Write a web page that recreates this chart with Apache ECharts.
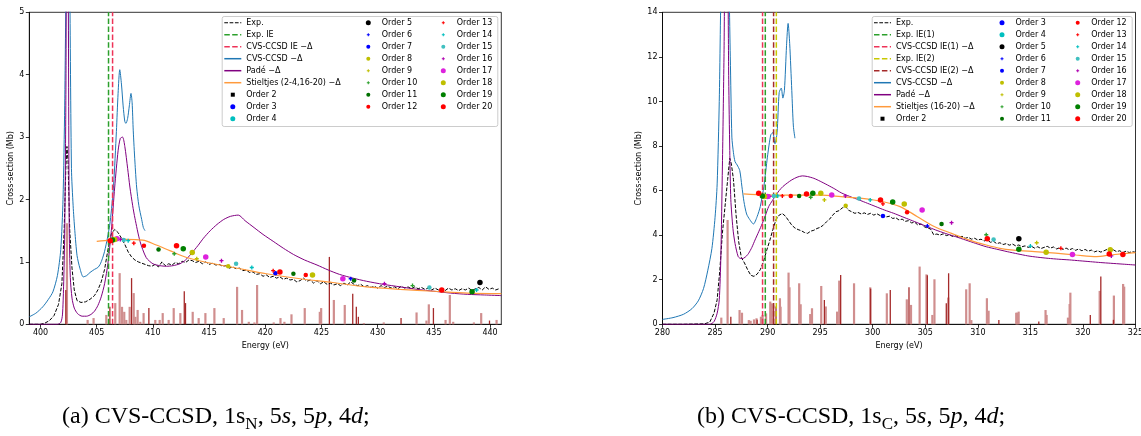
<!DOCTYPE html>
<html><head><meta charset="utf-8">
<script src="https://cdn.jsdelivr.net/npm/echarts@6/dist/echarts.min.js"></script>
<style>html,body{margin:0;padding:0;background:#fff}#c{width:1141px;height:436px}</style>
</head><body><div id="c"></div>
<script>
// ---------------- DATA ----------------
const xTicksLeft = [400,405,410,415,420,425,430,435,440];
const xTicksRight = [280,285,290,295,300,305,310,315,320,325];

const expLeft = [[399.0,0.0],[399.5,0.0],[400.0,0.0],[400.4,0.02],[400.8,0.06],[401.2,0.14],[401.6,0.32],[401.9,0.65],[402.1,1.5],[402.25,2.5],[402.35,2.85],[402.45,2.6],[402.6,1.5],[402.8,0.9],[403.0,0.55],[403.25,0.38],[403.6,0.35],[404.0,0.36],[404.4,0.4],[404.8,0.46],[405.1,0.55],[405.4,0.68],[405.7,0.88],[406.0,1.2],[406.3,1.45],[406.6,1.52],[406.9,1.47],[407.2,1.38],[407.5,1.28],[407.8,1.16],[408.1,1.08],[408.4,1.03],[408.7,1.0],[409.0,0.98],[409.3,0.96],[409.6,0.94],[409.9,0.93],[410.2,0.96],[410.5,0.92],[410.8,1.0],[411.1,0.94],[411.4,0.97],[411.7,0.95],[412.0,0.99],[412.3,0.97],[412.6,1.01],[412.9,0.99],[413.2,1.03],[413.5,1.02],[413.8,0.99],[414.1,1.01],[414.4,0.97],[414.7,1.0],[415.0,0.96],[415.3,0.98],[415.6,0.95],[415.9,0.96],[416.2,0.93],[416.5,0.94],[416.8,0.9],[417.1,0.92],[417.4,0.89],[417.7,0.9],[418.0,0.86],[418.3,0.87],[418.6,0.83],[418.9,0.84],[419.2,0.8],[419.5,0.81],[419.8,0.77],[420.1,0.79],[420.4,0.75],[420.7,0.77],[421.0,0.74],[421.3,0.76],[421.6,0.72],[421.9,0.74],[422.2,0.71],[422.5,0.72],[422.8,0.68],[423.1,0.7],[423.4,0.74],[423.7,0.69],[424.0,0.71],[424.3,0.66],[424.6,0.7],[424.9,0.65],[425.2,0.68],[425.5,0.64],[425.8,0.66],[426.1,0.63],[426.4,0.65],[426.7,0.62],[427.0,0.66],[427.3,0.63],[427.6,0.68],[427.9,0.64],[428.2,0.62],[428.5,0.64],[428.8,0.6],[429.1,0.62],[429.4,0.59],[429.7,0.61],[430.0,0.58],[430.3,0.62],[430.6,0.59],[430.9,0.61],[431.2,0.58],[431.5,0.6],[431.8,0.57],[432.1,0.61],[432.4,0.58],[432.7,0.6],[433.0,0.57],[433.3,0.6],[433.6,0.57],[433.9,0.59],[434.2,0.56],[434.5,0.58],[434.8,0.55],[435.1,0.58],[435.4,0.55],[435.7,0.57],[436.0,0.54],[436.3,0.58],[436.6,0.55],[436.9,0.57],[437.2,0.54],[437.5,0.57],[437.8,0.55],[438.1,0.58],[438.4,0.54],[438.7,0.57],[439.0,0.59],[439.3,0.55],[439.6,0.6],[439.9,0.56],[440.2,0.58],[440.5,0.55],[440.8,0.57]];

const cvsLeft = [[399,0.12],[399.6,0.18],[400.2,0.28],[400.7,0.4],[401.1,0.52],[401.5,0.78],[401.8,1.2],[402.0,2.0],[402.15,3.5],[402.3,6],[402.45,8],[402.6,5.5],[402.75,2.5],[402.9,1.9],[403.05,1.5],[403.25,1.1],[403.5,0.9],[403.8,0.76],[404.1,0.78],[404.4,0.83],[404.8,0.88],[405.1,0.91],[405.3,0.96],[405.5,1.05],[405.7,1.17],[405.95,1.38],[406.2,1.65],[406.5,2.23],[406.75,3.09],[406.9,3.7],[407.05,4.08],[407.2,3.85],[407.35,3.5],[407.5,3.25],[407.6,3.22],[407.75,3.3],[407.9,3.5],[408.05,3.7],[408.15,3.55],[408.25,3.1],[408.4,2.6],[408.55,2.2],[408.75,1.9],[409.0,1.68],[409.15,1.55],[409.3,1.5]];

const padeLeft = [[399,0],[401.5,0],[401.8,0.03],[401.95,0.15],[402.05,0.6],[402.15,1.45],[402.25,3.5],[402.35,7],[402.45,6],[402.55,1.6],[402.65,0.75],[402.8,0.42],[403.0,0.26],[403.3,0.17],[403.7,0.13],[404.1,0.13],[404.5,0.16],[404.8,0.21],[405.1,0.3],[405.4,0.44],[405.7,0.65],[406.0,0.98],[406.3,1.5],[406.6,2.2],[406.9,2.78],[407.1,2.98],[407.3,3.0],[407.5,2.85],[407.75,2.5],[407.95,2.2],[408.2,1.9],[408.4,1.7],[408.85,1.33],[409.4,1.07],[410.0,0.97],[410.6,0.94],[411.2,0.93],[411.8,0.94],[412.4,0.97],[412.9,1.03],[413.4,1.13],[414.0,1.26],[414.5,1.38],[415.1,1.5],[415.7,1.6],[416.3,1.68],[416.9,1.73],[417.6,1.75],[418.2,1.66],[419.0,1.55],[419.8,1.44],[420.7,1.33],[421.6,1.22],[422.5,1.12],[423.5,1.03],[424.6,0.95],[425.6,0.87],[426.6,0.8],[427.8,0.74],[429.0,0.69],[430.5,0.64],[432,0.6],[433.5,0.56],[435,0.53],[436.5,0.5],[438,0.48],[439.5,0.47],[441,0.46]];

const stieltjesLeft = [[405,1.33],[406.2,1.35],[407.5,1.36],[409.1,1.35],[410.3,1.27],[411.5,1.18],[413,1.07],[414.8,0.99],[417.2,0.91],[420.1,0.81],[423.1,0.73],[426,0.67],[429,0.6],[432,0.56],[435,0.53],[438,0.5],[441,0.49]];

const expRight = [[280,0],[282,0],[284,0.02],[284.5,0.1],[284.9,0.5],[285.2,1.1],[285.45,2.4],[285.7,4.1],[285.95,5.3],[286.2,6.5],[286.4,7.45],[286.55,7.2],[286.75,6.5],[287.0,4.9],[287.25,3.7],[287.5,3.0],[287.8,2.75],[288.1,2.45],[288.4,2.2],[288.7,2.15],[289.0,2.25],[289.3,2.45],[289.6,2.8],[289.9,3.3],[290.2,3.75],[290.5,4.25],[290.8,4.7],[291.1,4.9],[291.4,4.97],[291.7,4.85],[292.0,4.65],[292.3,4.45],[292.6,4.32],[292.9,4.25],[293.2,4.2],[293.5,4.12],[293.8,4.08],[294.1,4.18],[294.4,4.22],[294.7,4.3],[295.0,4.35],[295.3,4.45],[295.6,4.6],[295.9,4.72],[296.2,4.9],[296.5,5.05],[296.8,5.1],[297.1,5.22],[297.4,5.3],[297.7,5.12],[298.0,5.05],[298.3,4.98],[298.6,5.02],[298.9,4.95],[299.2,5.0],[299.5,4.93],[299.8,4.98],[300.1,4.9],[300.4,4.96],[300.7,4.88],[301.0,4.92],[301.3,4.82],[301.6,4.85],[301.9,4.75],[302.2,4.78],[302.5,4.68],[302.8,4.72],[303.1,4.62],[303.4,4.65],[303.7,4.55],[304.0,4.58],[304.3,4.45],[304.6,4.5],[304.9,4.38],[305.2,4.32],[305.5,4.28],[305.8,4.02],[306.1,4.05],[306.4,4.0],[306.7,4.06],[307.0,3.98],[307.3,4.02],[307.6,3.94],[307.9,3.98],[308.2,3.9],[308.5,3.95],[308.8,3.86],[309.1,3.9],[309.4,3.82],[309.7,3.86],[310.0,3.78],[310.3,3.82],[310.6,3.74],[310.9,3.78],[311.2,3.68],[311.5,3.72],[311.8,3.62],[312.1,3.66],[312.4,3.58],[312.7,3.62],[313.0,3.55],[313.3,3.6],[313.6,3.52],[313.9,3.56],[314.2,3.48],[314.5,3.52],[314.8,3.45],[315.1,3.5],[315.4,3.42],[315.7,3.48],[316.0,3.4],[316.3,3.45],[316.6,3.5],[316.9,3.42],[317.2,3.47],[317.5,3.38],[317.8,3.44],[318.1,3.36],[318.4,3.42],[318.7,3.34],[319.0,3.4],[319.3,3.32],[319.6,3.38],[319.9,3.3],[320.2,3.36],[320.5,3.28],[320.8,3.33],[321.1,3.25],[321.4,3.3],[321.7,3.24],[322.0,3.3],[322.3,3.36],[322.6,3.28],[322.9,3.34],[323.2,3.26],[323.5,3.3],[323.8,3.22],[324.1,3.28],[324.4,3.22],[324.7,3.26],[325,3.23]];

const cvsRight = [[280,0.22],[281,0.3],[282,0.45],[282.8,0.7],[283.4,1.05],[283.9,1.6],[284.3,2.4],[284.7,3.4],[285.0,4.8],[285.2,6.3],[285.4,10],[285.6,16],[285.9,20],[286.2,18],[286.45,12],[286.6,8.4],[286.75,7.7],[286.9,7.3],[287.1,7.15],[287.35,6.9],[287.55,6.2],[287.75,5.5],[288.0,4.95],[288.3,4.7],[288.65,4.5],[289.0,4.83],[289.3,5.28],[289.65,6.2],[289.98,7.5],[290.3,8.5],[290.5,8.6],[290.7,8.1],[290.9,8.6],[291.1,10.4],[291.3,10.6],[291.45,10.15],[291.6,10.5],[291.8,12.5],[291.95,13.5],[292.1,12.6],[292.3,10.5],[292.45,8.9],[292.6,8.35]];

const padeRight = [[280,0],[284.5,0],[284.9,0.12],[285.2,0.5],[285.4,1.1],[285.55,3],[285.7,7.1],[285.85,12],[286.0,18],[286.15,18],[286.3,11],[286.4,7.8],[286.5,5.6],[286.7,4.3],[286.9,3.63],[287.2,3.04],[287.45,2.95],[287.7,2.96],[288.0,3.07],[288.2,3.19],[288.5,3.45],[288.8,3.78],[289.15,4.15],[289.5,4.53],[289.8,4.9],[290.1,5.28],[290.45,5.55],[290.8,5.8],[291.1,6.0],[291.45,6.18],[291.9,6.35],[292.3,6.48],[292.8,6.6],[293.3,6.66],[293.8,6.63],[294.4,6.55],[295.0,6.42],[295.7,6.25],[296.4,6.07],[297.0,5.9],[297.8,5.74],[298.7,5.58],[299.5,5.43],[300.3,5.28],[301.1,5.13],[302,4.98],[302.8,4.83],[303.6,4.68],[304.4,4.53],[305.2,4.38],[306,4.23],[306.9,4.08],[307.9,3.93],[308.85,3.78],[309.8,3.63],[310.8,3.48],[311.8,3.37],[312.8,3.26],[313.8,3.16],[314.75,3.07],[315.7,3.01],[316.7,2.96],[317.7,2.92],[318.7,2.89],[319.7,2.85],[320.7,2.81],[321.7,2.77],[322.6,2.74],[323.8,2.7],[325,2.66]];

const stieltjesRight = [[287.7,5.85],[289.8,5.8],[292.4,5.8],[295.1,5.8],[297,5.73],[299,5.65],[301,5.5],[302.6,5.28],[304.25,4.83],[305.9,4.38],[307.5,4.08],[309.2,3.78],[310.8,3.56],[312.1,3.41],[313.4,3.33],[315.4,3.26],[317.4,3.19],[319.35,3.11],[321.3,3.04],[322.6,3.11],[325,3.22]];

// ionisation energies (vertical dashed lines)
const ieLeftExp = 406.05, ieLeftCvs = 406.41;
const ieRightExp1 = 289.78, ieRightCvs1 = 289.52, ieRightExp2 = 290.83, ieRightCvs2 = 290.57;

// stick spectra [energy, height]
const barsLeftLight = [[402.31,1.62],[404.15,0.07],[404.68,0.1],[405.81,0.15],[406.61,0.34],[407.0,0.82],[407.21,0.28],[407.41,0.2],[407.59,0.07],[407.89,0.28],[408.25,0.5],[408.4,0.12],[408.6,0.23],[408.84,0.04],[409.13,0.18],[410.17,0.07],[410.56,0.07],[410.83,0.18],[411.36,0.07],[411.81,0.26],[412.4,0.18],[413.5,0.2],[414.03,0.1],[414.63,0.18],[415.43,0.26],[416.26,0.1],[417.45,0.6],[417.89,0.23],[418.49,0.04],[418.99,0.03],[419.23,0.63],[420.71,0.03],[421.31,0.1],[421.66,0.04],[422.29,0.16],[423.47,0.26],[424.81,0.2],[424.93,0.26],[426.06,0.39],[427.03,0.31],[428.73,0.02],[430.5,0.03],[433.42,0.19],[434.3,0.06],[434.51,0.32],[436.0,0.07],[436.38,0.47],[436.68,0.04],[438.52,0.03],[439.17,0.18],[440.54,0.07]];
const barsLeftDark = [[402.25,0.55],[406.17,0.28],[408.1,0.74],[409.64,0.26],[412.79,0.53],[412.9,0.34],[425.7,1.08],[427.78,0.49],[428.1,0.28],[428.28,0.12],[432.08,0.1],[434.96,0.26],[439.95,0.06]];
const barsRightLight = [[285.55,0.3],[286.15,4.68],[287.29,0.64],[287.52,0.52],[288.17,0.19],[288.34,0.16],[288.66,0.22],[288.9,0.27],[289.32,0.34],[289.48,0.42],[289.81,0.49],[290.21,1.02],[290.37,0.94],[291.13,1.17],[291.19,0.79],[291.95,2.32],[292.04,1.66],[292.96,1.84],[293.1,0.9],[294.01,0.46],[294.18,0.72],[295.06,1.72],[295.49,0.8],[296.57,0.57],[296.77,1.96],[298.18,1.84],[299.72,1.66],[301.3,1.39],[303.2,1.12],[303.6,0.87],[304.42,2.59],[305.07,2.24],[305.63,0.42],[305.83,2.02],[307.14,1.2],[308.85,1.57],[309.18,1.84],[309.34,0.19],[310.82,1.17],[310.98,0.61],[313.61,0.52],[313.7,0.52],[313.84,0.57],[316.4,0.64],[316.5,0.42],[318.53,0.3],[318.69,0.91],[318.76,1.42],[321.55,1.5],[322.9,1.29],[323.78,1.81],[323.88,1.69]];
const barsRightDark = [[286.5,0.34],[289.0,0.2],[290.57,0.85],[290.8,0.8],[295.4,1.09],[296.95,2.21],[299.8,1.6],[301.67,1.54],[303.45,1.66],[305.2,2.2],[307.0,0.94],[307.22,2.29],[312.0,0.19],[315.8,0.13],[320.7,0.42],[321.7,2.14],[322.9,0.2]];

// Stieltjes points, index 0 = order 2 ... index 18 = order 20
const ordersLeft = [
  [], [], [],
  [[439.1,0.67]],
  [[427.6,0.73]],
  [[420.9,0.82]],
  [[416.7,0.93]],
  [[413.9,1.05]],
  [[411.9,1.13],[433.1,0.62]],
  [[410.5,1.2],[422.5,0.81],[427.9,0.70]],
  [[409.2,1.26],[423.6,0.79]],
  [[408.3,1.30],[420.7,0.86]],
  [[407.8,1.34],[418.8,0.91],[438.8,0.55]],
  [[407.4,1.35],[417.4,0.97],[434.6,0.59]],
  [[407.1,1.36],[416.1,1.02],[430.6,0.65]],
  [[406.8,1.37],[414.7,1.08],[426.9,0.73]],
  [[406.6,1.36],[413.5,1.15],[424.2,0.79]],
  [[406.4,1.35],[412.7,1.21],[438.4,0.52]],
  [[406.2,1.34],[412.1,1.26],[421.3,0.84],[435.7,0.55]]
];
const ordersRight = [
  [], [], [],
  [[313.9,3.84]],
  [[305.2,4.41]],
  [[300.97,4.86]],
  [[297.43,5.32]],
  [[295.4,5.58],[315.6,3.66]],
  [[294.1,5.70],[310.8,4.02]],
  [[293.0,5.76],[306.55,4.50]],
  [[292.2,5.76],[303.27,5.03]],
  [[291.4,5.76],[300.97,5.40],[317.9,3.41]],
  [[290.96,5.76],[299.76,5.58],[315.0,3.51]],
  [[290.6,5.76],[298.7,5.65],[311.5,3.81]],
  [[290.2,5.74],[297.4,5.76],[307.5,4.56],[322.7,3.07]],
  [[290.0,5.73],[296.1,5.80],[304.7,5.13],[319.0,3.13]],
  [[289.7,5.73],[295.06,5.88],[303.0,5.40],[316.5,3.23],[322.6,3.34]],
  [[289.5,5.76],[294.3,5.88],[301.9,5.49],[313.9,3.37]],
  [[289.15,5.88],[293.7,5.85],[300.74,5.58],[310.9,3.84],[322.5,3.16],[323.8,3.13]]
];
const orderNumbers = [2,3,4,5,6,7,8,9,10,11,12,13,14,15,16,17,18,19,20];
const orderColors = ['#000000','#0000ff','#00bfbf','#000000','#0000ff','#0000ff','#bfbf00','#bfbf00','#2ca02c','#007000','#ff0000','#ff0000','#00bfbf','#40c0c0','#b000b0','#dd22dd','#bfbf00','#008000','#ff0000'];
const orderMarkers = ['square','big','big','big','plus','mid','mid','plus','plus','mid','mid','plus','plus','mid','plus','big','big','big','big'];

// ---------------- STYLE ----------------
const FONT = 'DejaVu Sans';
const M = '\u2212\u0394';
const C = {black:'#000000', green:'#2ca02c', red:'#ee3358', blue:'#1f77b4', purple:'#800080', orange:'#ff9a3c', yellow:'#c8c800', brown:'#a52a2a'};
const DASH1 = [3.7,1.6], DASH15 = [5.5,2.4];
const BOX = 'M0,0M17,12';
const ICON = {
  solid: 'path://' + BOX + 'M0,5.25h17v1.5h-17z',
  dash1: 'path://' + BOX + 'M0,5.5h3.7v1h-3.7zM5.3,5.5h3.7v1h-3.7zM10.6,5.5h3.7v1h-3.7zM15.9,5.5h1.1v1h-1.1z',
  dash15: 'path://' + BOX + 'M0,5.25h5.5v1.5h-5.5zM7.9,5.25h5.5v1.5h-5.5zM15.8,5.25h1.2v1.5h-1.2z',
  big: 'path://' + BOX + 'M8.5,3.5A2.5,2.5,0,1,1,8.5,8.5A2.5,2.5,0,1,1,8.5,3.5z',
  mid: 'path://' + BOX + 'M8.5,4A2,2,0,1,1,8.5,8A2,2,0,1,1,8.5,4z',
  plus: 'path://' + BOX + 'M8,4.5h1v1h1v1h-1v1h-1v-1h-1v-1h1z',
  square: 'path://' + BOX + 'M6.5,4h4v4h-4z'
};
const SYM = {
  big: {symbol:'circle', size:5.5},
  mid: {symbol:'circle', size:4.5},
  plus: {symbol:'path://M1,0h1v1h1v1h-1v1h-1v-1h-1v-1h1z', size:4},
  square: {symbol:'rect', size:5}
};

const legendIcons = {}, legendColors = {};
function reg(name, icon, color){ legendIcons[name]=icon; legendColors[name]=color; }

const series = [];
function bars(g, data, color, w){
  series.push({type:'bar', xAxisIndex:g, yAxisIndex:g, data, barWidth:w, itemStyle:{color}, z:1, silent:true, barGap:'-100%'});
}
function line(g, name, data, color, width, dash, smooth, z){
  series.push({type:'line', name, xAxisIndex:g, yAxisIndex:g, data, symbol:'none', smooth:smooth||false, clip:true,
    lineStyle:{color, width, type:dash||'solid'}, itemStyle:{color}, z:z||3, silent:true});
}
function vline(g, name, x, ymax, color){
  line(g, name, [[x,0],[x,ymax]], color, 1.5, DASH15, false, 4);
  reg(name, ICON.dash15, color);
}
function orders(g, list){
  list.forEach((pts,i)=>{
    const s = SYM[orderMarkers[i]];
    series.push({type:'scatter', name:'Order '+orderNumbers[i], xAxisIndex:g, yAxisIndex:g, data:pts,
      symbol:s.symbol, symbolSize:s.size, itemStyle:{color:orderColors[i], opacity:1}, z:6, silent:true});
    reg('Order '+orderNumbers[i], ICON[orderMarkers[i]], orderColors[i]);
  });
}

// left panel
bars(0, barsLeftLight, '#d08e8e', 2.2);
bars(0, barsLeftDark, '#a52a2a', 1.3);
line(0, 'Exp.', expLeft, C.black, 1, DASH1, false, 3); reg('Exp.', ICON.dash1, C.black);
vline(0, 'Exp. IE', ieLeftExp, 5, C.green);
vline(0, 'CVS-CCSD IE '+M, ieLeftCvs, 5, C.red);
line(0, 'CVS-CCSD '+M, cvsLeft, C.blue, 1, null, 0.25); reg('CVS-CCSD '+M, ICON.solid, C.blue);
line(0, 'Pad\u00e9 '+M, padeLeft, C.purple, 1, null, 0.25); reg('Pad\u00e9 '+M, ICON.solid, C.purple);
line(0, 'Stieltjes (2-4,16-20) '+M, stieltjesLeft, C.orange, 1.2, null, 0.3); reg('Stieltjes (2-4,16-20) '+M, ICON.solid, C.orange);
orders(0, ordersLeft);
// right panel
bars(1, barsRightLight, '#d08e8e', 2.2);
bars(1, barsRightDark, '#a52a2a', 1.3);
line(1, 'Exp.', expRight, C.black, 1, DASH1, false, 3);
vline(1, 'CVS-CCSD IE(1) '+M, ieRightCvs1, 14, C.red);
vline(1, 'Exp. IE(1)', ieRightExp1, 14, C.green);
vline(1, 'CVS-CCSD IE(2) '+M, ieRightCvs2, 14, C.brown);
vline(1, 'Exp. IE(2)', ieRightExp2, 14, C.yellow);
line(1, 'CVS-CCSD '+M, cvsRight, C.blue, 1, null, 0.25);
line(1, 'Pad\u00e9 '+M, padeRight, C.purple, 1, null, 0.25);
line(1, 'Stieltjes (16-20) '+M, stieltjesRight, C.orange, 1.2, null, 0.3); reg('Stieltjes (16-20) '+M, ICON.solid, C.orange);
orders(1, ordersRight);

const ordName = n => 'Order '+n;
const legendCols = [
  {left:224.3, names:['Exp.','Exp. IE','CVS-CCSD IE '+M,'CVS-CCSD '+M,'Pad\u00e9 '+M,'Stieltjes (2-4,16-20) '+M,'Order 2','Order 3','Order 4']},
  {left:359.8, names:[5,6,7,8,9,10,11,12].map(ordName)},
  {left:434.8, names:[13,14,15,16,17,18,19,20].map(ordName)},
  {left:874, names:['Exp.','Exp. IE(1)','CVS-CCSD IE(1) '+M,'Exp. IE(2)','CVS-CCSD IE(2) '+M,'CVS-CCSD '+M,'Pad\u00e9 '+M,'Stieltjes (16-20) '+M,'Order 2']},
  {left:993.5, names:[3,4,5,6,7,8,9,10,11].map(ordName)},
  {left:1069.2, names:[12,13,14,15,16,17,18,19,20].map(ordName)}
];
const legends = legendCols.map(c=>({
  orient:'vertical', left:c.left, top:16.7, padding:0, itemGap:0, itemWidth:17, itemHeight:12,
  selectedMode:false, z:10,
  textStyle:{fontSize:8, fontFamily:FONT, color:'#000', lineHeight:12},
  data:c.names.map(n=>({name:n, icon:legendIcons[n], itemStyle:{color:legendColors[n], borderWidth:0, opacity:1}}))
}));

function xAxis(g, min, max, ticks){
  return {gridIndex:g, type:'value', min, max,
    axisLine:{show:true, onZero:false, lineStyle:{color:'#000', width:0.8}},
    axisTick:{show:true, customValues:ticks, length:3.5, lineStyle:{color:'#000', width:0.8}},
    axisLabel:{customValues:ticks, fontSize:8, fontFamily:FONT, color:'#000', margin:5},
    splitLine:{show:false},
    name:'Energy (eV)', nameLocation:'middle', nameGap:12,
    nameTextStyle:{fontSize:8, fontFamily:FONT, color:'#000'}};
}
function yAxis(g, max, interval, gap){
  return {gridIndex:g, type:'value', min:0, max, interval,
    axisLine:{show:true, onZero:false, lineStyle:{color:'#000', width:0.8}},
    axisTick:{show:true, length:3.5, lineStyle:{color:'#000', width:0.8}},
    axisLabel:{fontSize:8, fontFamily:FONT, color:'#000', margin:5},
    splitLine:{show:false},
    name:'Cross-section (Mb)', nameLocation:'middle', nameGap:gap, nameRotate:90,
    nameTextStyle:{fontSize:8, fontFamily:FONT, color:'#000'}};
}

const capStyle = {fontSize:24, fontFamily:'Liberation Serif', lineHeight:32};
const rich = {
  sub:{fontSize:17, fontFamily:'Liberation Serif', lineHeight:16, verticalAlign:'bottom'},
  it:{fontSize:24, fontFamily:'Liberation Serif', fontStyle:'italic', lineHeight:32}
};

const option = {
  animation:false,
  backgroundColor:'#ffffff',
  grid:[
    {left:29.3, top:12.3, width:472, height:312, show:true, borderColor:'#000', borderWidth:0.8, backgroundColor:'transparent', containLabel:false, outerBoundsMode:'none'},
    {left:662.5, top:12.3, width:473, height:312, show:true, borderColor:'#000', borderWidth:0.8, backgroundColor:'transparent', containLabel:false, outerBoundsMode:'none'}
  ],
  xAxis:[xAxis(0,399,441,xTicksLeft), xAxis(1,280,325,xTicksRight)],
  yAxis:[yAxis(0,5,1,7), yAxis(1,14,2,12)],
  legend:legends,
  graphic:[
    {type:'rect', left:221.7, top:16, shape:{width:275.6, height:110, r:2}, style:{fill:'rgba(255,255,255,0.85)', stroke:'#cccccc', lineWidth:1}, z:8, silent:true},
    {type:'rect', left:871.7, top:16, shape:{width:260, height:110, r:2}, style:{fill:'rgba(255,255,255,0.85)', stroke:'#cccccc', lineWidth:1}, z:8, silent:true},
    {type:'text', left:62, top:401, z:10, style:Object.assign({text:'(a) CVS-CCSD, 1s{sub|N}, 5{it|s}, 5{it|p}, 4{it|d};', rich, fill:'#000'}, capStyle)},
    {type:'text', left:697, top:401, z:10, style:Object.assign({text:'(b) CVS-CCSD, 1s{sub|C}, 5{it|s}, 5{it|p}, 4{it|d};', rich, fill:'#000'}, capStyle)}
  ],
  series
};
const chart = echarts.init(document.getElementById('c'), null, {renderer:'canvas'});
chart.setOption(option);
</script></body></html>
